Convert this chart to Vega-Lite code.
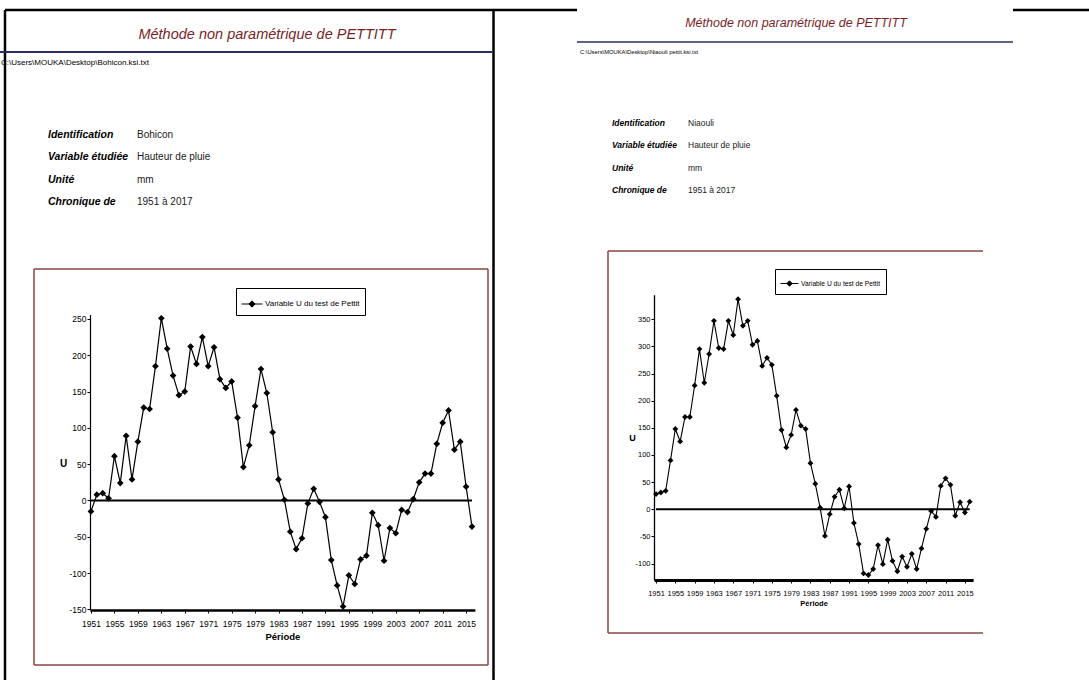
{
  "$schema": "https://vega.github.io/schema/vega-lite/v6.json",
  "width": 1089,
  "height": 680,
  "autosize": {"type": "none"},
  "padding": 0,
  "background": "white",
  "config": {
    "view": {"stroke": null},
    "axis": {"grid": false, "labelFont": "Liberation Sans, Arial, sans-serif", "titleFont": "Liberation Sans, Arial, sans-serif", "domainColor": "black", "tickColor": "black", "labelColor": "black", "titleColor": "black", "labelFlush": false, "labelOverlap": false},
    "text": {"font": "Liberation Sans, Arial, sans-serif"}
  },
  "datasets": {
    "bohicon": [
      {"year":1951,"u":-15,"serie":"Variable U du test de Pettit"},{"year":1952,"u":8,"serie":"Variable U du test de Pettit"},{"year":1953,"u":10,"serie":"Variable U du test de Pettit"},{"year":1954,"u":3,"serie":"Variable U du test de Pettit"},{"year":1955,"u":61,"serie":"Variable U du test de Pettit"},{"year":1956,"u":24,"serie":"Variable U du test de Pettit"},{"year":1957,"u":89,"serie":"Variable U du test de Pettit"},{"year":1958,"u":29,"serie":"Variable U du test de Pettit"},{"year":1959,"u":81,"serie":"Variable U du test de Pettit"},{"year":1960,"u":128,"serie":"Variable U du test de Pettit"},
      {"year":1961,"u":126,"serie":"Variable U du test de Pettit"},{"year":1962,"u":185,"serie":"Variable U du test de Pettit"},{"year":1963,"u":251,"serie":"Variable U du test de Pettit"},{"year":1964,"u":209,"serie":"Variable U du test de Pettit"},{"year":1965,"u":172,"serie":"Variable U du test de Pettit"},{"year":1966,"u":145,"serie":"Variable U du test de Pettit"},{"year":1967,"u":150,"serie":"Variable U du test de Pettit"},{"year":1968,"u":212,"serie":"Variable U du test de Pettit"},{"year":1969,"u":188,"serie":"Variable U du test de Pettit"},{"year":1970,"u":225,"serie":"Variable U du test de Pettit"},
      {"year":1971,"u":185,"serie":"Variable U du test de Pettit"},{"year":1972,"u":211,"serie":"Variable U du test de Pettit"},{"year":1973,"u":167,"serie":"Variable U du test de Pettit"},{"year":1974,"u":155,"serie":"Variable U du test de Pettit"},{"year":1975,"u":164,"serie":"Variable U du test de Pettit"},{"year":1976,"u":114,"serie":"Variable U du test de Pettit"},{"year":1977,"u":46,"serie":"Variable U du test de Pettit"},{"year":1978,"u":76,"serie":"Variable U du test de Pettit"},{"year":1979,"u":130,"serie":"Variable U du test de Pettit"},{"year":1980,"u":181,"serie":"Variable U du test de Pettit"},
      {"year":1981,"u":148,"serie":"Variable U du test de Pettit"},{"year":1982,"u":94,"serie":"Variable U du test de Pettit"},{"year":1983,"u":29,"serie":"Variable U du test de Pettit"},{"year":1984,"u":1,"serie":"Variable U du test de Pettit"},{"year":1985,"u":-43,"serie":"Variable U du test de Pettit"},{"year":1986,"u":-67,"serie":"Variable U du test de Pettit"},{"year":1987,"u":-52,"serie":"Variable U du test de Pettit"},{"year":1988,"u":-4,"serie":"Variable U du test de Pettit"},{"year":1989,"u":16,"serie":"Variable U du test de Pettit"},{"year":1990,"u":-2,"serie":"Variable U du test de Pettit"},
      {"year":1991,"u":-23,"serie":"Variable U du test de Pettit"},{"year":1992,"u":-82,"serie":"Variable U du test de Pettit"},{"year":1993,"u":-117,"serie":"Variable U du test de Pettit"},{"year":1994,"u":-146,"serie":"Variable U du test de Pettit"},{"year":1995,"u":-103,"serie":"Variable U du test de Pettit"},{"year":1996,"u":-115,"serie":"Variable U du test de Pettit"},{"year":1997,"u":-81,"serie":"Variable U du test de Pettit"},{"year":1998,"u":-76,"serie":"Variable U du test de Pettit"},{"year":1999,"u":-17,"serie":"Variable U du test de Pettit"},{"year":2000,"u":-34,"serie":"Variable U du test de Pettit"},
      {"year":2001,"u":-83,"serie":"Variable U du test de Pettit"},{"year":2002,"u":-38,"serie":"Variable U du test de Pettit"},{"year":2003,"u":-45,"serie":"Variable U du test de Pettit"},{"year":2004,"u":-13,"serie":"Variable U du test de Pettit"},{"year":2005,"u":-16,"serie":"Variable U du test de Pettit"},{"year":2006,"u":2,"serie":"Variable U du test de Pettit"},{"year":2007,"u":25,"serie":"Variable U du test de Pettit"},{"year":2008,"u":37,"serie":"Variable U du test de Pettit"},{"year":2009,"u":37,"serie":"Variable U du test de Pettit"},{"year":2010,"u":78,"serie":"Variable U du test de Pettit"},
      {"year":2011,"u":107,"serie":"Variable U du test de Pettit"},{"year":2012,"u":124,"serie":"Variable U du test de Pettit"},{"year":2013,"u":70,"serie":"Variable U du test de Pettit"},{"year":2014,"u":81,"serie":"Variable U du test de Pettit"},{"year":2015,"u":19,"serie":"Variable U du test de Pettit"},{"year":2016,"u":-36,"serie":"Variable U du test de Pettit"}
    ],
    "niaouli": [
      {"year":1951,"u":28,"serie":"Variable U du test de Pettit"},{"year":1952,"u":31,"serie":"Variable U du test de Pettit"},{"year":1953,"u":34,"serie":"Variable U du test de Pettit"},{"year":1954,"u":90,"serie":"Variable U du test de Pettit"},{"year":1955,"u":148,"serie":"Variable U du test de Pettit"},{"year":1956,"u":125,"serie":"Variable U du test de Pettit"},{"year":1957,"u":170,"serie":"Variable U du test de Pettit"},{"year":1958,"u":170,"serie":"Variable U du test de Pettit"},{"year":1959,"u":228,"serie":"Variable U du test de Pettit"},{"year":1960,"u":295,"serie":"Variable U du test de Pettit"},
      {"year":1961,"u":233,"serie":"Variable U du test de Pettit"},{"year":1962,"u":286,"serie":"Variable U du test de Pettit"},{"year":1963,"u":347,"serie":"Variable U du test de Pettit"},{"year":1964,"u":297,"serie":"Variable U du test de Pettit"},{"year":1965,"u":295,"serie":"Variable U du test de Pettit"},{"year":1966,"u":347,"serie":"Variable U du test de Pettit"},{"year":1967,"u":321,"serie":"Variable U du test de Pettit"},{"year":1968,"u":387,"serie":"Variable U du test de Pettit"},{"year":1969,"u":338,"serie":"Variable U du test de Pettit"},{"year":1970,"u":347,"serie":"Variable U du test de Pettit"},
      {"year":1971,"u":303,"serie":"Variable U du test de Pettit"},{"year":1972,"u":310,"serie":"Variable U du test de Pettit"},{"year":1973,"u":264,"serie":"Variable U du test de Pettit"},{"year":1974,"u":279,"serie":"Variable U du test de Pettit"},{"year":1975,"u":266,"serie":"Variable U du test de Pettit"},{"year":1976,"u":209,"serie":"Variable U du test de Pettit"},{"year":1977,"u":146,"serie":"Variable U du test de Pettit"},{"year":1978,"u":114,"serie":"Variable U du test de Pettit"},{"year":1979,"u":137,"serie":"Variable U du test de Pettit"},{"year":1980,"u":183,"serie":"Variable U du test de Pettit"},
      {"year":1981,"u":154,"serie":"Variable U du test de Pettit"},{"year":1982,"u":148,"serie":"Variable U du test de Pettit"},{"year":1983,"u":85,"serie":"Variable U du test de Pettit"},{"year":1984,"u":47,"serie":"Variable U du test de Pettit"},{"year":1985,"u":3,"serie":"Variable U du test de Pettit"},{"year":1986,"u":-49,"serie":"Variable U du test de Pettit"},{"year":1987,"u":-9,"serie":"Variable U du test de Pettit"},{"year":1988,"u":23,"serie":"Variable U du test de Pettit"},{"year":1989,"u":36,"serie":"Variable U du test de Pettit"},{"year":1990,"u":2,"serie":"Variable U du test de Pettit"},
      {"year":1991,"u":42,"serie":"Variable U du test de Pettit"},{"year":1992,"u":-25,"serie":"Variable U du test de Pettit"},{"year":1993,"u":-64,"serie":"Variable U du test de Pettit"},{"year":1994,"u":-118,"serie":"Variable U du test de Pettit"},{"year":1995,"u":-121,"serie":"Variable U du test de Pettit"},{"year":1996,"u":-110,"serie":"Variable U du test de Pettit"},{"year":1997,"u":-66,"serie":"Variable U du test de Pettit"},{"year":1998,"u":-101,"serie":"Variable U du test de Pettit"},{"year":1999,"u":-56,"serie":"Variable U du test de Pettit"},{"year":2000,"u":-95,"serie":"Variable U du test de Pettit"},
      {"year":2001,"u":-114,"serie":"Variable U du test de Pettit"},{"year":2002,"u":-87,"serie":"Variable U du test de Pettit"},{"year":2003,"u":-106,"serie":"Variable U du test de Pettit"},{"year":2004,"u":-82,"serie":"Variable U du test de Pettit"},{"year":2005,"u":-110,"serie":"Variable U du test de Pettit"},{"year":2006,"u":-72,"serie":"Variable U du test de Pettit"},{"year":2007,"u":-36,"serie":"Variable U du test de Pettit"},{"year":2008,"u":-3,"serie":"Variable U du test de Pettit"},{"year":2009,"u":-14,"serie":"Variable U du test de Pettit"},{"year":2010,"u":43,"serie":"Variable U du test de Pettit"},
      {"year":2011,"u":57,"serie":"Variable U du test de Pettit"},{"year":2012,"u":45,"serie":"Variable U du test de Pettit"},{"year":2013,"u":-12,"serie":"Variable U du test de Pettit"},{"year":2014,"u":13,"serie":"Variable U du test de Pettit"},{"year":2015,"u":-6,"serie":"Variable U du test de Pettit"},{"year":2016,"u":14,"serie":"Variable U du test de Pettit"}
    ]
  },
  "layer": [
    {
      "data": {"values": [{"x":0,"x2":0,"y":0,"y2":1},{"x":0,"x2":1,"y":0,"y2":0},{"x":1,"x2":1,"y":0,"y2":1}]},
      "mark": {"type": "rule", "color": "black", "strokeWidth": 2.5},
      "encoding": {
        "x": {"field": "x", "type": "quantitative", "scale": {"domain": [0, 1], "range": [5, 493.5], "nice": false, "zero": false}, "axis": null},
        "x2": {"field": "x2"},
        "y": {"field": "y", "type": "quantitative", "scale": {"domain": [0, 1], "range": [10, 685], "nice": false, "zero": false}, "axis": null},
        "y2": {"field": "y2"}
      }
    },
    {
      "data": {"values": [{"x":0,"x2":1,"y":0}]},
      "mark": {"type": "rule", "color": "black", "strokeWidth": 2.5},
      "encoding": {
        "x": {"field": "x", "type": "quantitative", "scale": {"domain": [0, 1], "range": [493, 577], "nice": false, "zero": false}, "axis": null},
        "x2": {"field": "x2"},
        "y": {"field": "y", "type": "quantitative", "scale": {"domain": [0, 1], "range": [10, 11], "nice": false, "zero": false}, "axis": null}
      }
    },
    {
      "data": {"values": [{"x":0,"x2":1,"y":0}]},
      "mark": {"type": "rule", "color": "black", "strokeWidth": 2.5},
      "encoding": {
        "x": {"field": "x", "type": "quantitative", "scale": {"domain": [0, 1], "range": [1013, 1089], "nice": false, "zero": false}, "axis": null},
        "x2": {"field": "x2"},
        "y": {"field": "y", "type": "quantitative", "scale": {"domain": [0, 1], "range": [10, 11], "nice": false, "zero": false}, "axis": null}
      }
    },
    {
      "data": {"values": [{"x":0,"x2":1,"y":0}]},
      "mark": {"type": "rule", "color": "#2b2b66", "strokeWidth": 2},
      "encoding": {
        "x": {"field": "x", "type": "quantitative", "scale": {"domain": [0, 1], "range": [0, 492], "nice": false, "zero": false}, "axis": null},
        "x2": {"field": "x2"},
        "y": {"field": "y", "type": "quantitative", "scale": {"domain": [0, 1], "range": [52, 53], "nice": false, "zero": false}, "axis": null}
      }
    },
    {
      "data": {"values": [{"x":0,"x2":1,"y":0}]},
      "mark": {"type": "rule", "color": "#2b2b66", "strokeWidth": 1.6},
      "encoding": {
        "x": {"field": "x", "type": "quantitative", "scale": {"domain": [0, 1], "range": [577, 1013], "nice": false, "zero": false}, "axis": null},
        "x2": {"field": "x2"},
        "y": {"field": "y", "type": "quantitative", "scale": {"domain": [0, 1], "range": [42, 43], "nice": false, "zero": false}, "axis": null}
      }
    },
    {
      "data": {"values": [{"x":0,"x2":1,"y":0,"y2":0},{"x":0,"x2":0,"y":0,"y2":1},{"x":0,"x2":1,"y":1,"y2":1},{"x":1,"x2":1,"y":0,"y2":1}]},
      "mark": {"type": "rule", "color": "#8a4646", "strokeWidth": 1.5},
      "encoding": {
        "x": {"field": "x", "type": "quantitative", "scale": {"domain": [0, 1], "range": [34, 488], "nice": false, "zero": false}, "axis": null},
        "x2": {"field": "x2"},
        "y": {"field": "y", "type": "quantitative", "scale": {"domain": [0, 1], "range": [269, 665], "nice": false, "zero": false}, "axis": null},
        "y2": {"field": "y2"}
      }
    },
    {
      "data": {"values": [{"x":0,"x2":1,"y":0,"y2":0},{"x":0,"x2":0,"y":0,"y2":1},{"x":0,"x2":1,"y":1,"y2":1}]},
      "mark": {"type": "rule", "color": "#8a4646", "strokeWidth": 1.5},
      "encoding": {
        "x": {"field": "x", "type": "quantitative", "scale": {"domain": [0, 1], "range": [608, 983], "nice": false, "zero": false}, "axis": null},
        "x2": {"field": "x2"},
        "y": {"field": "y", "type": "quantitative", "scale": {"domain": [0, 1], "range": [251, 633], "nice": false, "zero": false}, "axis": null},
        "y2": {"field": "y2"}
      }
    },
    {
      "data": {"values": [{"panel": "Bohicon", "titre": "Méthode non paramétrique de PETTITT"}]},
      "mark": {"type": "text", "fontStyle": "italic", "fontSize": 14.5, "color": "#7a1f1f", "align": "center", "baseline": "middle"},
      "encoding": {
        "x": {"field": "panel", "type": "nominal", "scale": {"type": "point", "domain": ["Bohicon"], "range": [267, 267], "padding": 0}, "axis": null},
        "y": {"field": "panel", "type": "nominal", "scale": {"type": "point", "domain": ["Bohicon"], "range": [35, 35], "padding": 0}, "axis": null},
        "text": {"field": "titre"}
      }
    },
    {
      "data": {"values": [{"panel": "Niaouli", "titre": "Méthode non paramétrique de PETTITT"}]},
      "mark": {"type": "text", "fontStyle": "italic", "fontSize": 12.5, "color": "#7a1f1f", "align": "center", "baseline": "middle"},
      "encoding": {
        "x": {"field": "panel", "type": "nominal", "scale": {"type": "point", "domain": ["Niaouli"], "range": [796, 796], "padding": 0}, "axis": null},
        "y": {"field": "panel", "type": "nominal", "scale": {"type": "point", "domain": ["Niaouli"], "range": [23, 23], "padding": 0}, "axis": null},
        "text": {"field": "titre"}
      }
    },
    {
      "data": {"values": [{"panel": "Bohicon", "chemin": "C:\\Users\\MOUKA\\Desktop\\Bohicon.ksi.txt"}]},
      "mark": {"type": "text", "fontSize": 8, "color": "black", "align": "left", "baseline": "middle"},
      "encoding": {
        "x": {"field": "panel", "type": "nominal", "scale": {"type": "point", "domain": ["Bohicon"], "range": [1, 1], "padding": 0}, "axis": null},
        "y": {"field": "panel", "type": "nominal", "scale": {"type": "point", "domain": ["Bohicon"], "range": [63, 63], "padding": 0}, "axis": null},
        "text": {"field": "chemin"}
      }
    },
    {
      "data": {"values": [{"panel": "Niaouli", "chemin": "C:\\Users\\MOUKA\\Desktop\\Niaouli pettit.ksi.txt"}]},
      "mark": {"type": "text", "fontSize": 5.8, "color": "black", "align": "left", "baseline": "middle"},
      "encoding": {
        "x": {"field": "panel", "type": "nominal", "scale": {"type": "point", "domain": ["Niaouli"], "range": [580, 580], "padding": 0}, "axis": null},
        "y": {"field": "panel", "type": "nominal", "scale": {"type": "point", "domain": ["Niaouli"], "range": [52, 52], "padding": 0}, "axis": null},
        "text": {"field": "chemin"}
      }
    },
    {
      "data": {"values": [
        {"champ": "Identification", "col": "label", "texte": "Identification"},
        {"champ": "Identification", "col": "value", "texte": "Bohicon"},
        {"champ": "Variable étudiée", "col": "label", "texte": "Variable étudiée"},
        {"champ": "Variable étudiée", "col": "value", "texte": "Hauteur de pluie"},
        {"champ": "Unité", "col": "label", "texte": "Unité"},
        {"champ": "Unité", "col": "value", "texte": "mm"},
        {"champ": "Chronique de", "col": "label", "texte": "Chronique de"},
        {"champ": "Chronique de", "col": "value", "texte": "1951  à   2017"}
      ]},
      "encoding": {
        "x": {"field": "col", "type": "nominal", "scale": {"type": "point", "domain": ["label", "value"], "range": [48, 137], "padding": 0}, "axis": null},
        "y": {"field": "champ", "type": "nominal", "scale": {"type": "point", "domain": ["Identification", "Variable étudiée", "Unité", "Chronique de"], "range": [135, 202], "padding": 0}, "axis": null},
        "text": {"field": "texte"}
      },
      "layer": [
        {"transform": [{"filter": "datum.col === 'label'"}], "mark": {"type": "text", "align": "left", "baseline": "middle", "fontSize": 10.5, "fontStyle": "italic", "fontWeight": "bold", "color": "black"}},
        {"transform": [{"filter": "datum.col === 'value'"}], "mark": {"type": "text", "align": "left", "baseline": "middle", "fontSize": 10, "color": "#1a1a1a"}}
      ]
    },
    {
      "data": {"values": [
        {"champ": "Identification", "col": "label", "texte": "Identification"},
        {"champ": "Identification", "col": "value", "texte": "Niaouli"},
        {"champ": "Variable étudiée", "col": "label", "texte": "Variable étudiée"},
        {"champ": "Variable étudiée", "col": "value", "texte": "Hauteur de pluie"},
        {"champ": "Unité", "col": "label", "texte": "Unité"},
        {"champ": "Unité", "col": "value", "texte": "mm"},
        {"champ": "Chronique de", "col": "label", "texte": "Chronique de"},
        {"champ": "Chronique de", "col": "value", "texte": "1951  à   2017"}
      ]},
      "encoding": {
        "x": {"field": "col", "type": "nominal", "scale": {"type": "point", "domain": ["label", "value"], "range": [612, 688], "padding": 0}, "axis": null},
        "y": {"field": "champ", "type": "nominal", "scale": {"type": "point", "domain": ["Identification", "Variable étudiée", "Unité", "Chronique de"], "range": [123, 190], "padding": 0}, "axis": null},
        "text": {"field": "texte"}
      },
      "layer": [
        {"transform": [{"filter": "datum.col === 'label'"}], "mark": {"type": "text", "align": "left", "baseline": "middle", "fontSize": 8.5, "fontStyle": "italic", "fontWeight": "bold", "color": "black"}},
        {"transform": [{"filter": "datum.col === 'value'"}], "mark": {"type": "text", "align": "left", "baseline": "middle", "fontSize": 8.5, "color": "#1a1a1a"}}
      ]
    },
    {
      "data": {"values": [{"year": 1951, "year_end": 2016, "u": 0}]},
      "mark": {"type": "rule", "color": "black", "strokeWidth": 1.8},
      "encoding": {
        "x": {"field": "year", "type": "quantitative", "scale": {"domain": [1950.8, 2016.5], "range": [89.8, 474.9], "nice": false, "zero": false}, "axis": null},
        "x2": {"field": "year_end"},
        "y": {"field": "u", "type": "quantitative", "scale": {"domain": [-150, 256], "range": [609.4, 314.6], "nice": false, "zero": false}, "axis": null}
      }
    },
    {
      "data": {"name": "bohicon"},
      "mark": {"type": "line", "color": "black", "strokeWidth": 1.2},
      "encoding": {
        "x": {"field": "year", "type": "quantitative", "scale": {"domain": [1950.8, 2016.5], "range": [89.8, 474.9], "nice": false, "zero": false},
          "axis": {"orient": "bottom", "offset": -70, "values": [1951,1955,1959,1963,1967,1971,1975,1979,1983,1987,1991,1995,1999,2003,2007,2011,2015], "format": "d", "labelFontSize": 8.5, "labelPadding": 6, "tickSize": 3, "domainWidth": 2.5, "title": "Période", "titleFontSize": 9.5, "titleFontWeight": "bold", "titlePadding": 4}},
        "y": {"field": "u", "type": "quantitative", "scale": {"domain": [-150, 256], "range": [609.4, 314.6], "nice": false, "zero": false},
          "axis": {"orient": "left", "offset": -90, "values": [-150,-100,-50,0,50,100,150,200,250], "format": "d", "labelExpr": "replace(datum.label, '−', '-')", "labelFontSize": 8.5, "labelPadding": 1, "tickSize": 3, "domainWidth": 1.2, "title": "U", "titleAngle": 0, "titleFontSize": 10, "titleFontWeight": "bold", "titleX": -27, "titleY": 463, "titleAlign": "center", "titleBaseline": "middle"}}
      }
    },
    {
      "data": {"name": "bohicon"},
      "mark": {"type": "point", "filled": true, "shape": "diamond", "size": 45, "opacity": 1},
      "encoding": {
        "x": {"field": "year", "type": "quantitative", "scale": {"domain": [1950.8, 2016.5], "range": [89.8, 474.9], "nice": false, "zero": false}, "axis": null},
        "y": {"field": "u", "type": "quantitative", "scale": {"domain": [-150, 256], "range": [609.4, 314.6], "nice": false, "zero": false}, "axis": null},
        "color": {"field": "serie", "type": "nominal", "scale": {"range": ["black"]},
          "legend": {"title": null, "orient": "none", "legendX": 236, "legendY": 288, "padding": 5, "strokeColor": "black", "fillColor": "white", "labelFont": "Liberation Sans, Arial, sans-serif", "labelFontSize": 8, "labelColor": "black", "labelOffset": 2, "labelLimit": 300, "symbolType": "M-1,0H1M-0.3,0L0,-0.3L0.3,0L0,0.3Z", "symbolSize": 441, "symbolStrokeColor": "black", "symbolStrokeWidth": 1, "symbolOpacity": 1}}
      }
    },
    {
      "data": {"values": [{"year": 1951, "year_end": 2016, "u": 0}]},
      "mark": {"type": "rule", "color": "black", "strokeWidth": 2},
      "encoding": {
        "x": {"field": "year", "type": "quantitative", "scale": {"domain": [1950.6, 2016.7], "range": [654.1, 973.1], "nice": false, "zero": false}, "axis": null},
        "x2": {"field": "year_end"},
        "y": {"field": "u", "type": "quantitative", "scale": {"domain": [-130, 395], "range": [579.9, 294.8], "nice": false, "zero": false}, "axis": null}
      }
    },
    {
      "data": {"name": "niaouli"},
      "mark": {"type": "line", "color": "black", "strokeWidth": 1.1},
      "encoding": {
        "x": {"field": "year", "type": "quantitative", "scale": {"domain": [1950.6, 2016.7], "range": [654.1, 973.1], "nice": false, "zero": false},
          "axis": {"orient": "bottom", "offset": -100, "values": [1951,1955,1959,1963,1967,1971,1975,1979,1983,1987,1991,1995,1999,2003,2007,2011,2015], "format": "d", "labelFontSize": 7.5, "labelPadding": 6, "tickSize": 3, "domainWidth": 3, "title": "Période", "titleFontSize": 7.5, "titleFontWeight": "bold", "titlePadding": 3}},
        "y": {"field": "u", "type": "quantitative", "scale": {"domain": [-130, 395], "range": [579.9, 294.8], "nice": false, "zero": false},
          "axis": {"orient": "left", "offset": -654, "values": [-100,-50,0,50,100,150,200,250,300,350], "format": "d", "labelExpr": "replace(datum.label, '−', '-')", "labelFontSize": 7.5, "labelPadding": 1, "tickSize": 3, "domainWidth": 1.3, "title": "U", "titleAngle": 0, "titleFontSize": 9, "titleFontWeight": "bold", "titleX": -22, "titleY": 437, "titleAlign": "center", "titleBaseline": "middle"}}
      }
    },
    {
      "data": {"name": "niaouli"},
      "mark": {"type": "point", "filled": true, "shape": "diamond", "size": 34, "opacity": 1},
      "encoding": {
        "x": {"field": "year", "type": "quantitative", "scale": {"domain": [1950.6, 2016.7], "range": [654.1, 973.1], "nice": false, "zero": false}, "axis": null},
        "y": {"field": "u", "type": "quantitative", "scale": {"domain": [-130, 395], "range": [579.9, 294.8], "nice": false, "zero": false}, "axis": null},
        "color": {"field": "serie", "type": "nominal", "scale": {"range": ["black"]},
          "legend": {"title": null, "orient": "none", "legendX": 775, "legendY": 269, "padding": 5, "strokeColor": "black", "fillColor": "white", "labelFont": "Liberation Sans, Arial, sans-serif", "labelFontSize": 6.7, "labelColor": "black", "labelOffset": 2, "labelLimit": 300, "symbolType": "M-1,0H1M-0.3,0L0,-0.3L0.3,0L0,0.3Z", "symbolSize": 324, "symbolStrokeColor": "black", "symbolStrokeWidth": 1, "symbolOpacity": 1}}
      }
    }
  ],
  "resolve": {
    "scale": {"x": "independent", "y": "independent", "color": "independent"},
    "axis": {"x": "independent", "y": "independent"},
    "legend": {"color": "independent"}
  }
}
